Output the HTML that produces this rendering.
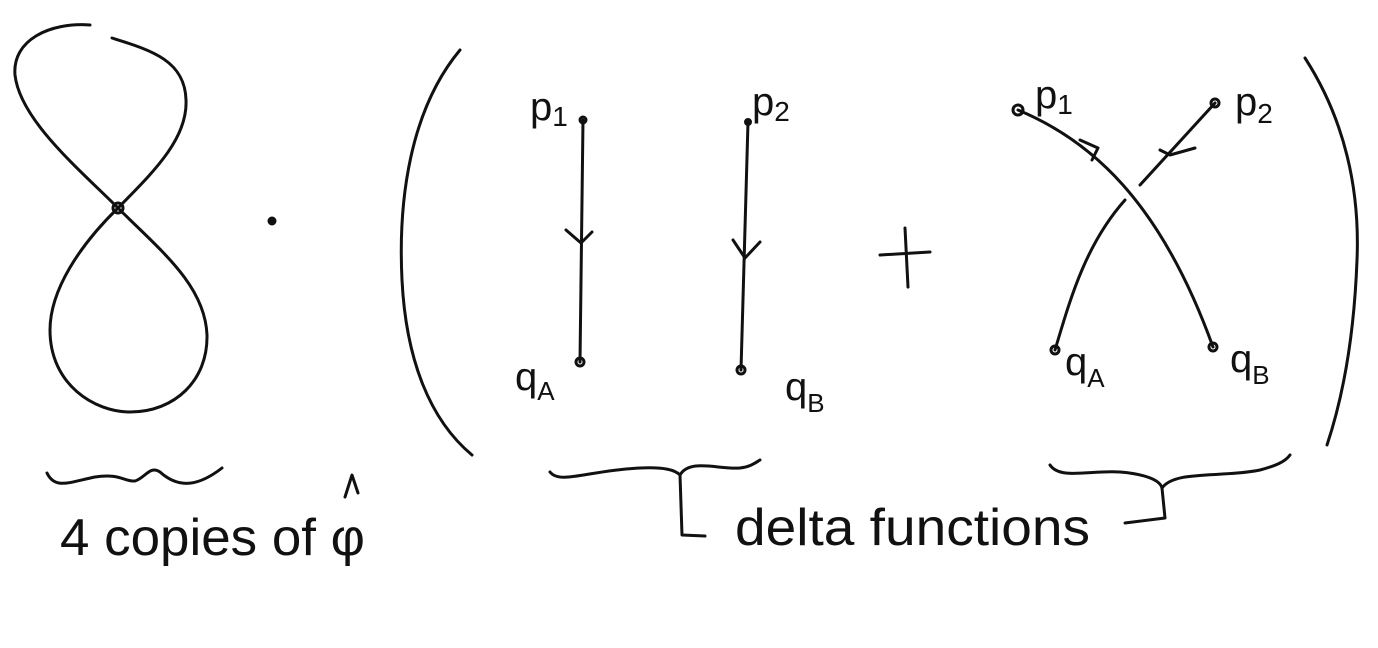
<!DOCTYPE html>
<html><head><meta charset="utf-8"><style>
html,body{margin:0;padding:0;background:#fff;}
svg{display:block;}
text{font-family:"Liberation Sans",sans-serif;fill:#111;}
</style></head><body>
<svg width="1378" height="648" viewBox="0 0 1378 648" xmlns="http://www.w3.org/2000/svg">
<g fill="none" stroke="#111" stroke-width="3" stroke-linecap="round" stroke-linejoin="round">
 <path d="M118,208 C80,170 20,120 15,75 C12,40 50,22 90,25 M112,38 C150,50 185,60 186,100 C188,140 150,175 118,208"/>
 <path d="M118,208 C80,245 50,290 50,330 C50,385 95,412 130,412 C175,412 208,380 207,335 C205,285 160,250 118,208"/>
 <circle cx="118" cy="208" r="5"/>
 <circle cx="272" cy="221" r="3" fill="#111"/>
 <path d="M460,50 C410,110 398,200 402,280 C406,360 430,420 472,455"/>
 <path d="M1305,58 C1345,120 1360,190 1357,260 C1354,340 1342,400 1327,445"/>
 <path d="M583,120 L580,362"/>
 <path d="M566,230 L581,243 L592,232"/>
 <circle cx="583" cy="120" r="3"/><circle cx="580" cy="362" r="4"/>
 <path d="M748,122 L741,370"/>
 <path d="M733,240 L745,258 L760,242"/>
 <circle cx="748" cy="122" r="2.5"/><circle cx="741" cy="370" r="4"/>
 <path d="M880,255 L930,252 M905,228 L908,287"/>
 <path d="M1018,110 C1090,140 1160,200 1213,347"/>
 <path d="M1080,140 L1098,148 L1092,160"/>
 <path d="M1215,103 L1140,185 M1125,200 C1085,245 1070,300 1055,350"/>
 <path d="M1160,150 L1170,155 L1195,148"/>
 <circle cx="1018" cy="110" r="5"/><circle cx="1215" cy="103" r="4"/><circle cx="1055" cy="350" r="4"/><circle cx="1213" cy="347" r="4"/>
 <path d="M47,473 C55,490 70,482 95,477 C120,473 125,482 135,481 C145,478 150,465 160,472 C180,490 200,485 222,468"/>
 <path d="M550,472 C560,485 590,470 640,468 C665,467 675,470 680,475 C690,458 720,470 740,468 C750,467 755,463 760,460"/>
 <path d="M680,475 L682,535 L705,536"/>
 <path d="M1050,465 C1060,480 1090,470 1120,472 C1145,474 1160,480 1162,488 C1175,470 1220,478 1260,470 C1275,466 1285,462 1290,455"/>
 <path d="M1162,488 L1165,518 L1125,523"/>
 <path d="M345,497 L352,475 L358,493"/>
</g>
<text x="530" y="120" font-size="40">p<tspan font-size="28" dy="6">1</tspan></text>
<text x="752" y="115" font-size="40">p<tspan font-size="28" dy="6">2</tspan></text>
<text x="515" y="390" font-size="40">q<tspan font-size="26" dy="10">A</tspan></text>
<text x="785" y="400" font-size="40">q<tspan font-size="26" dy="12">B</tspan></text>
<text x="1035" y="108" font-size="40">p<tspan font-size="28" dy="6">1</tspan></text>
<text x="1235" y="115" font-size="40">p<tspan font-size="28" dy="8">2</tspan></text>
<text x="1065" y="375" font-size="40">q<tspan font-size="26" dy="12">A</tspan></text>
<text x="1230" y="372" font-size="40">q<tspan font-size="26" dy="12">B</tspan></text>
<text x="60" y="555" font-size="52" textLength="305" lengthAdjust="spacingAndGlyphs">4 copies of φ</text>
<text x="735" y="545" font-size="52" textLength="355" lengthAdjust="spacingAndGlyphs">delta functions</text>
</svg>
</body></html>
